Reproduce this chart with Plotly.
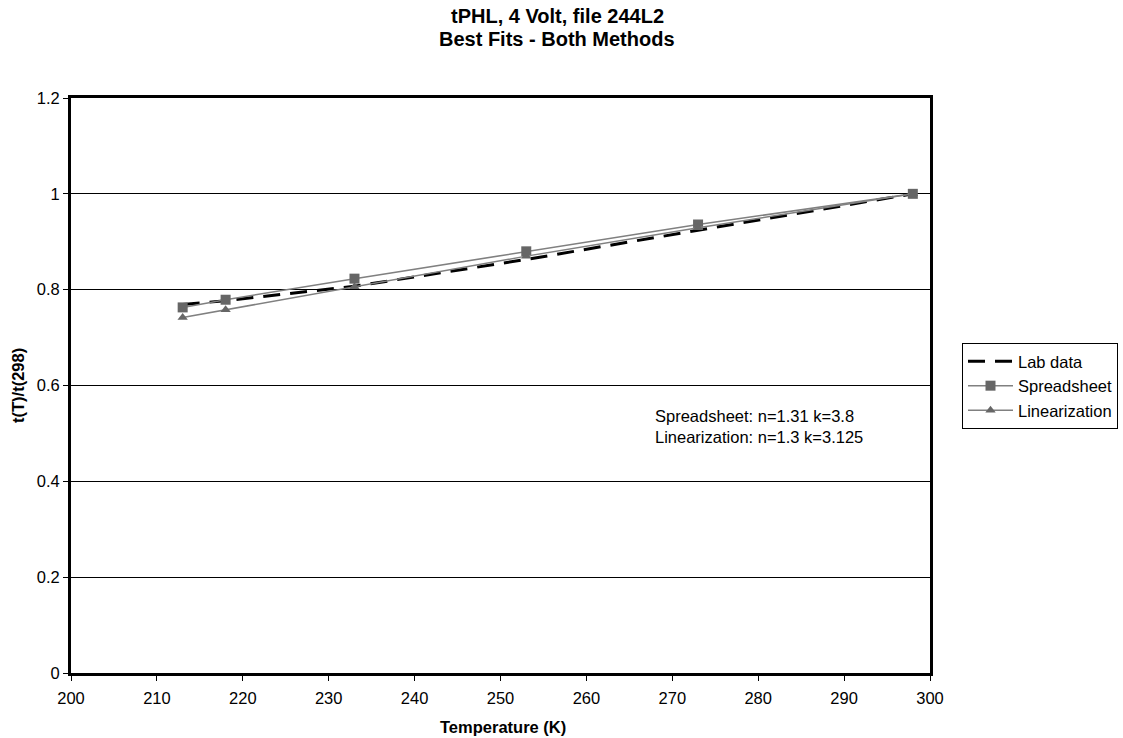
import plotly.graph_objects as go

temps = [213, 218, 233, 253, 273, 298]
lab_data = [0.769, 0.777, 0.807, 0.863, 0.924, 1.0]
spreadsheet = [0.763, 0.779, 0.823, 0.880, 0.936, 1.0]
linearization = [0.742, 0.758, 0.806, 0.870, 0.929, 1.0]

title_lines = ["tPHL, 4 Volt, file 244L2", "Best Fits - Both Methods"]
note_lines = ["Spreadsheet: n=1.31 k=3.8", "Linearization: n=1.3 k=3.125"]
x_title = "Temperature (K)"
y_title = "t(T)/t(298)"

FONT = "Liberation Sans, Arial, sans-serif"
W, H = 1123, 738
L, R, T, B = 71, 193, 98, 65
PW, PH = W - L - R, H - T - B


def px_x(px):
    return (px - L) / PW


def px_y(py):
    return (H - B - py) / PH


fig = go.Figure()
fig.add_trace(go.Scatter(
    x=temps, y=lab_data, name="Lab data", mode="lines",
    line=dict(color="black", width=3, dash="17px,10px"),
))
fig.add_trace(go.Scatter(
    x=temps, y=spreadsheet, name="Spreadsheet", mode="lines+markers",
    line=dict(color="#808080", width=1.5),
    marker=dict(symbol="square", size=10, color="#666666"),
))
fig.add_trace(go.Scatter(
    x=temps, y=linearization, name="Linearization", mode="lines+markers",
    line=dict(color="#808080", width=1.5),
    marker=dict(symbol="triangle-up", size=9, color="#666666"),
))

annotations = [
    dict(text="<b>%s</b>" % title_lines[0], x=px_x(557), y=px_y(16),
         xref="paper", yref="paper", xanchor="center", yanchor="middle",
         showarrow=False, font=dict(size=20, family=FONT, color="black")),
    dict(text="<b>%s</b>" % title_lines[1], x=px_x(557), y=px_y(39),
         xref="paper", yref="paper", xanchor="center", yanchor="middle",
         showarrow=False, font=dict(size=20, family=FONT, color="black")),
    dict(text="<b>%s</b>" % x_title, x=px_x(503), y=px_y(727),
         xref="paper", yref="paper", xanchor="center", yanchor="middle",
         showarrow=False, font=dict(size=16.5, family=FONT, color="black")),
    dict(text="<b>%s</b>" % y_title, x=px_x(18), y=px_y(386),
         xref="paper", yref="paper", xanchor="center", yanchor="middle",
         textangle=-90,
         showarrow=False, font=dict(size=16.5, family=FONT, color="black")),
    dict(text="<br>".join(note_lines), x=px_x(653), y=px_y(426),
         xref="paper", yref="paper", xanchor="left", yanchor="middle",
         align="left", showarrow=False,
         font=dict(size=16.5, family=FONT, color="black")),
]

fig.update_layout(
    width=W, height=H,
    margin=dict(l=L, r=R, t=T, b=B, autoexpand=False),
    paper_bgcolor="white", plot_bgcolor="white",
    font=dict(family=FONT, size=16.5, color="black"),
    showlegend=True,
    legend=dict(
        x=px_x(962), xanchor="left",
        y=px_y(343), yanchor="top",
        bordercolor="black", borderwidth=1, bgcolor="white",
        font=dict(size=16.5, family=FONT),
        itemwidth=45, tracegroupgap=0,
    ),
    annotations=annotations,
)

fig.update_xaxes(
    range=[200, 300], dtick=10, tick0=200,
    showline=True, linecolor="black", linewidth=3, mirror=True,
    ticks="outside", ticklen=5, tickcolor="black", tickwidth=1,
    ticklabelstandoff=3,
    showgrid=False, zeroline=False, automargin=False,
)
fig.update_yaxes(
    range=[0, 1.2], dtick=0.2, tick0=0,
    showline=True, linecolor="black", linewidth=3, mirror=True,
    ticks="outside", ticklen=5, tickcolor="black", tickwidth=1,
    showgrid=True, gridcolor="black", gridwidth=1, zeroline=False,
    automargin=False,
)

fig.write_html(
    "out.html",
    config={"displayModeBar": False},
    post_script="document.body.style.margin='0';document.body.style.padding='0';",
)
